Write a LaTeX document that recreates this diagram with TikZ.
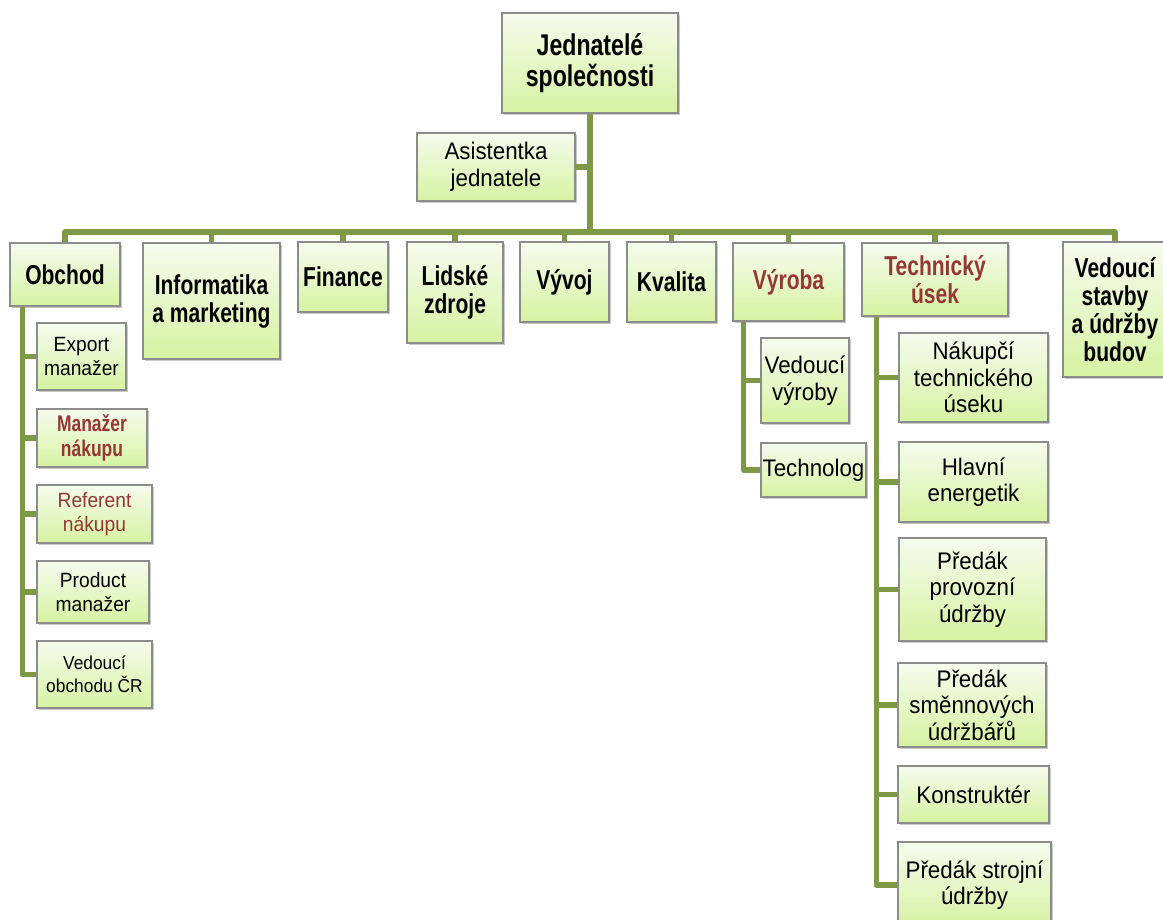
\documentclass[tikz,border=0pt]{standalone}
\usepackage{fontspec}
\setmainfont{Liberation Sans}[FakeStretch=0.93, BoldFeatures={FakeStretch=0.77}]
\usetikzlibrary{shadows}

\definecolor{olivelink}{RGB}{125,153,69}
\definecolor{boxtop}{RGB}{246,251,238}
\definecolor{boxbot}{RGB}{214,243,162}
\definecolor{boxline}{RGB}{140,140,140}
\definecolor{darkred}{RGB}{149,55,53}

\begin{document}
\begin{tikzpicture}[x=0.75pt, y=-0.75pt,
    box/.style={draw=boxline, line width=0.9pt, top color=boxtop, bottom color=boxbot,
        align=center, inner sep=0pt,
        drop shadow={shadow xshift=1.6pt, shadow yshift=-1.6pt, opacity=0.3, fill=black!70}},
    sz/.style 2 args={minimum width=#1*0.75pt, minimum height=#2*0.75pt},
    topfont/.style={font=\fontsize{22.5}{23}\selectfont\bfseries},
    deptfont/.style={font=\fontsize{20.5}{21}\selectfont\bfseries},
    subfont/.style={font=\fontsize{18}{20}\selectfont},
    leftfont/.style={font=\fontsize{15.5}{18}\selectfont},
    redtext/.style={text=darkred},
    link/.style={draw=olivelink, line width=3.8pt}]
\useasboundingbox (0,0) rectangle (1163,920);

% top
\node[box, sz={176}{100}, topfont] (jednatele) at (590,63) {Jednatelé\\společnosti};
\node[box, sz={158}{68}, subfont] (asist) at (496,167) {Asistentka\\jednatele};

% departments
\node[box, sz={110}{63}, deptfont] (obchod) at (65,274.5) {Obchod};
\node[box, sz={137}{116}, deptfont] (info) at (211.5,301) {Informatika\\a marketing};
\node[box, sz={90}{70}, deptfont] (finance) at (343,277) {Finance};
\node[box, sz={96}{101}, deptfont] (lidske) at (455,292.5) {Lidské\\zdroje};
\node[box, sz={89}{80}, deptfont] (vyvoj) at (564.5,282) {Vývoj};
\node[box, sz={89}{80}, deptfont] (kvalita) at (671.5,282) {Kvalita};
\node[box, sz={111}{78}, deptfont, redtext] (vyroba) at (788.5,282) {Výroba};
\node[box, sz={146}{73}, deptfont, redtext] (technicky) at (935,279.5) {Technický\\úsek};
\node[box, sz={104}{135}, deptfont] (stavby) at (1115,309.5) {Vedoucí\\stavby\\a údržby\\budov};

% Obchod
\node[box, sz={89}{67}, leftfont] (export) at (81.5,356.5) {Export\\manažer};
\node[box, sz={110}{58}, redtext, font=\fontsize{17}{18.5}\selectfont\bfseries] (manazer) at (92,438) {Manažer\\nákupu};
\node[box, sz={115}{58}, leftfont, redtext] (referent) at (94.5,514) {Referent\\nákupu};
\node[box, sz={112}{62}, leftfont] (product) at (93,592) {Product\\manažer};
\node[box, sz={115}{67}, font=\fontsize{14}{17}\selectfont] (vedobch) at (94.5,674.5) {Vedoucí\\obchodu ČR};

% Vyroba
\node[box, sz={88}{85}, subfont] (vedvyr) at (805,380.5) {Vedoucí\\výroby};
\node[box, sz={105}{54}, subfont] (technolog) at (813.5,470) {Technolog};

% Technicky usek
\node[box, sz={149}{89}, subfont] (nakupci) at (973.5,377.5) {Nákupčí\\technického\\úseku};
\node[box, sz={149}{80}, subfont] (energetik) at (973.5,482) {Hlavní\\energetik};
\node[box, sz={147}{103}, subfont] (provozni) at (972.5,589.5) {Předák\\provozní\\údržby};
\node[box, sz={148}{84}, subfont] (smennovi) at (972,705) {Předák\\směnnových\\údržbářů};
\node[box, sz={151}{57}, subfont] (konstrukter) at (973.5,794.5) {Konstruktér};
\node[box, sz={153}{86}, subfont] (strojni) at (974.5,885) {Předák strojní\\údržby};

% links
\coordinate (bus) at (590,232);
\draw[link] (jednatele.south) -- (jednatele.south |- bus);
\draw[link] (asist.east) -- (asist.east -| jednatele.south);
\draw[link, line join=round] (obchod.north) |- (bus) -| (stavby.north);
\foreach \dept in {info,finance,lidske,vyvoj,kvalita,vyroba,technicky}
    \draw[link] (\dept.north) -- (\dept.north |- bus);

\path (obchod.south west) ++(13,0) coordinate (obchodL);
\path (vyroba.south west) ++(11,0) coordinate (vyrobaL);
\path (technicky.south west) ++(15,0) coordinate (techL);

\draw[link, line join=round] (obchodL) |- (vedobch.west);
\foreach \pos in {export,manazer,referent,product}
    \draw[link] (\pos.west) -- (\pos.west -| obchodL);

\draw[link, line join=round] (vyrobaL) |- (technolog.west);
\draw[link] (vedvyr.west) -- (vedvyr.west -| vyrobaL);

\draw[link, line join=round] (techL) |- (strojni.west);
\foreach \pos in {nakupci,energetik,provozni,smennovi,konstrukter}
    \draw[link] (\pos.west) -- (\pos.west -| techL);
\end{tikzpicture}
\end{document}
